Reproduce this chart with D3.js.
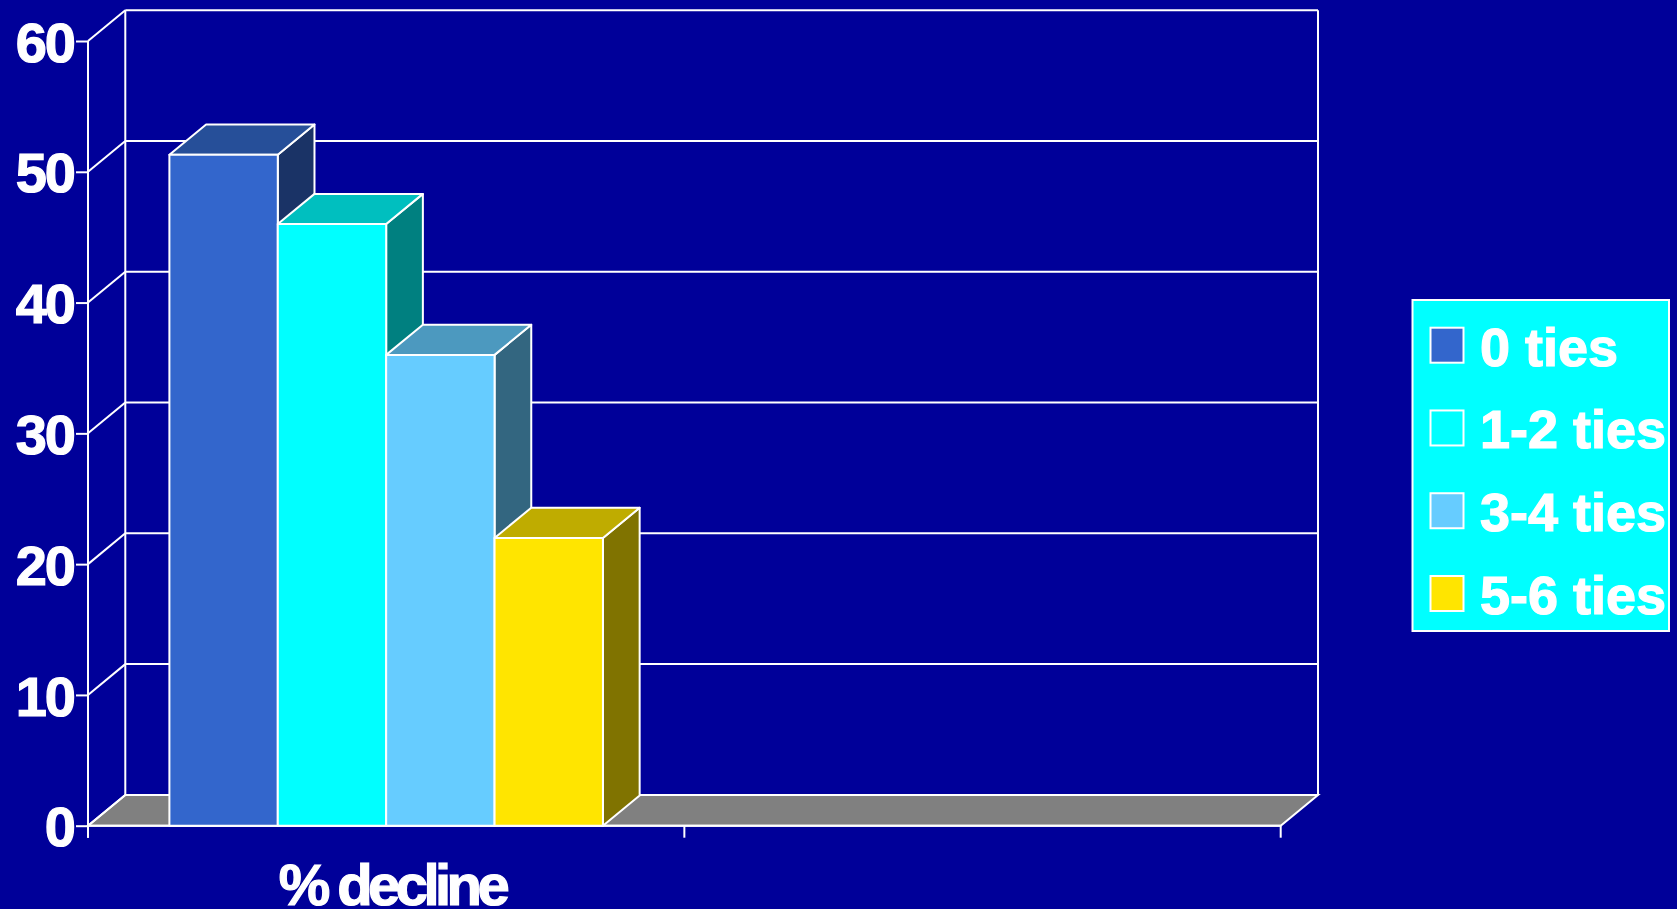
<!DOCTYPE html>
<html>
<head>
<meta charset="utf-8">
<script src="https://cdn.jsdelivr.net/npm/d3@7"></script>
<style>
  html, body { margin: 0; padding: 0; background: #000099; overflow: hidden; }
  svg { display: block; }
  text { font-family: "Liberation Sans", Arial, sans-serif; font-weight: bold; fill: #ffffff; stroke: #ffffff; stroke-width: 1.2px; }
</style>
</head>
<body>
<svg id="chart" width="1677" height="909"></svg>
<script>
// ---- data ----
const categories = ["% decline", ""];
const seriesNames = ["0 ties", "1-2 ties", "3-4 ties", "5-6 ties"];
const seriesValues = [51.3, 46, 36, 22];          // values for the "% decline" category
const yTicks = [0, 10, 20, 30, 40, 50, 60];
const frontColors = ["#3366CC", "#00FFFF", "#66CCFF", "#FFE500"];
const topColors   = ["#264F99", "#00BFBF", "#4C99BF", "#BFAC00"];
const sideColors  = ["#1A3366", "#008080", "#336680", "#807300"];

// ---- layout ----
const W = 1677, H = 909;
const plotLeft = 88, plotRight = 1280.7, plotBottom = 825.7, plotTop = 41;
const DX = 37.3, DY = -30.8;   // depth offset of the 3D box
const BDX = 36.7, BDY = -30.2; // depth offset of bars

const svg = d3.select("#chart");
svg.append("rect").attr("width", W).attr("height", H).attr("fill", "#000099");

const y = d3.scaleLinear().domain([0, 60]).range([plotBottom, plotTop]);
const x0 = d3.scaleBand().domain(categories).range([plotLeft, plotRight]).padding(0);
const gapFrac = 0.1365;
const x1 = d3.scaleBand().domain(seriesNames)
  .range([x0.bandwidth() * gapFrac, x0.bandwidth() * (1 - gapFrac)]).padding(0);

// floor (gray)
svg.append("polygon")
  .attr("points", [[plotLeft, plotBottom], [plotRight, plotBottom], [plotRight + DX, plotBottom + DY], [plotLeft + DX, plotBottom + DY]].map(p => p.join(",")).join(" "))
  .attr("fill", "#808080").attr("stroke", "#ffffff").attr("stroke-width", 2);

const grid = svg.append("g").attr("stroke", "#ffffff").attr("stroke-width", 2).attr("fill", "none");

// back wall grid lines + side wall diagonals
yTicks.forEach(v => {
  if (v > 0) {
    grid.append("line").attr("x1", plotLeft + DX).attr("x2", plotRight + DX)
      .attr("y1", y(v) + DY).attr("y2", y(v) + DY);
  }
  grid.append("line").attr("x1", plotLeft).attr("y1", y(v))
    .attr("x2", plotLeft + DX).attr("y2", y(v) + DY);
});
// back wall verticals
grid.append("line").attr("x1", plotLeft + DX).attr("x2", plotLeft + DX).attr("y1", y(60) + DY).attr("y2", y(0) + DY);
grid.append("line").attr("x1", plotRight + DX).attr("x2", plotRight + DX).attr("y1", y(60) + DY).attr("y2", y(0) + DY);

// y axis (front)
const yAxis = d3.axisLeft(y).tickValues(yTicks).tickSize(12).tickPadding(2).tickFormat(d3.format("d"));
const gy = svg.append("g").attr("transform", `translate(${plotLeft},0)`).call(yAxis);
gy.select(".domain").attr("stroke", "#ffffff").attr("stroke-width", 2)
  .attr("d", `M0,${y(60)}V${plotBottom + 12}`);
gy.selectAll(".tick line").attr("stroke", "#ffffff").attr("stroke-width", 2);
gy.selectAll(".tick text").attr("fill", "#ffffff").attr("font-size", 56)
  .attr("font-family", "'Liberation Sans', Arial, sans-serif").attr("font-weight", "bold")
  .attr("stroke", "#ffffff").attr("stroke-width", 1.2)
  .attr("letter-spacing", -2).attr("dy", "0.36em");

// x axis
const xTickPos = categories.map(c => x0(c)).concat([plotRight]);
const gx = svg.append("g");
gx.append("line").attr("x1", plotLeft).attr("x2", plotRight).attr("y1", plotBottom).attr("y2", plotBottom)
  .attr("stroke", "#ffffff").attr("stroke-width", 2);
gx.selectAll("line.tk").data(xTickPos).join("line").attr("class", "tk")
  .attr("x1", d => d).attr("x2", d => d).attr("y1", plotBottom).attr("y2", plotBottom + 12)
  .attr("stroke", "#ffffff").attr("stroke-width", 2);
gx.selectAll("text").data(categories.filter(c => c)).join("text")
  .attr("x", d => x0(d) + x0.bandwidth() / 2 + 8).attr("y", 905)
  .attr("text-anchor", "middle").attr("font-size", 58)
  .attr("textLength", 231).attr("lengthAdjust", "spacing")
  .text(d => d);

// bars
const barsG = svg.append("g").attr("stroke", "#ffffff").attr("stroke-width", 2).attr("stroke-linejoin", "round");
seriesNames.forEach((s, i) => {
  const xl = x0(categories[0]) + x1(s);
  const xr = xl + x1.bandwidth();
  const yt = y(seriesValues[i]);
  const yb = y(0);
  // side face
  barsG.append("polygon")
    .attr("points", [[xr, yb], [xr + BDX, yb + BDY], [xr + BDX, yt + BDY], [xr, yt]].map(p => p.join(",")).join(" "))
    .attr("fill", sideColors[i]);
  // top face
  barsG.append("polygon")
    .attr("points", [[xl, yt], [xl + BDX, yt + BDY], [xr + BDX, yt + BDY], [xr, yt]].map(p => p.join(",")).join(" "))
    .attr("fill", topColors[i]);
  // front face
  barsG.append("rect")
    .attr("x", xl).attr("y", yt).attr("width", xr - xl).attr("height", yb - yt)
    .attr("fill", frontColors[i]);
});

// legend
const lg = svg.append("g");
lg.append("rect").attr("x", 1412.5).attr("y", 300).attr("width", 256.5).attr("height", 331)
  .attr("fill", "#00FFFF").attr("stroke", "#ffffff").attr("stroke-width", 2);
const rowY = d3.scalePoint().domain(seriesNames).range([327.7, 576]);
seriesNames.forEach((s, i) => {
  lg.append("rect").attr("x", 1430.5).attr("y", rowY(s)).attr("width", 33).attr("height", 35)
    .attr("fill", frontColors[i]).attr("stroke", "#ffffff").attr("stroke-width", 2);
  lg.append("text").attr("x", 1480).attr("y", rowY(s) + 38)
    .attr("font-size", 54).attr("letter-spacing", 0).text(s);
});
</script>
</body>
</html>
